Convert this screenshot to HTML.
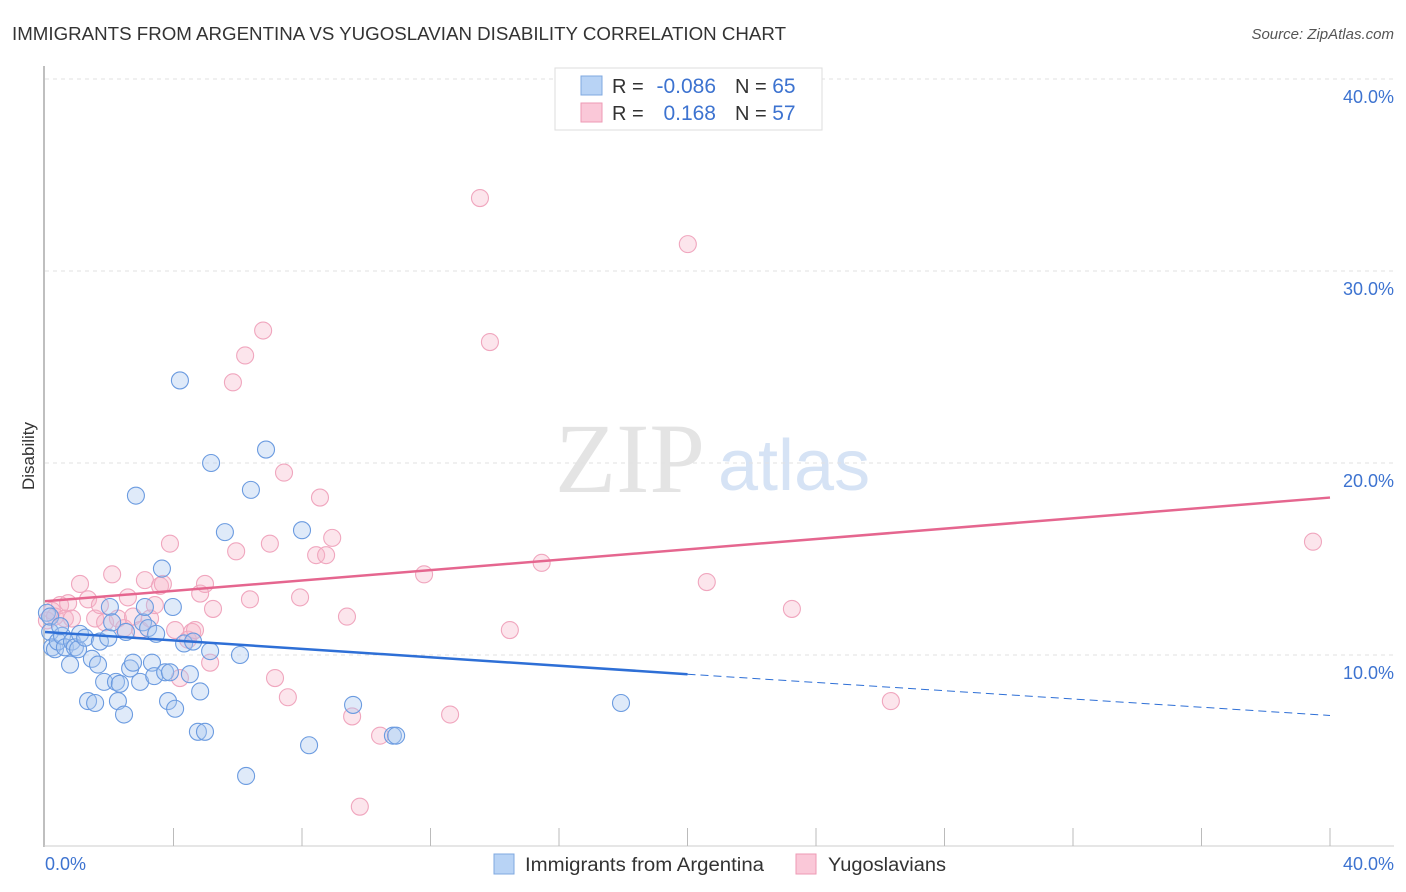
<!DOCTYPE html>
<html><head><meta charset="utf-8"><style>
body{margin:0;background:#fff;font-family:"Liberation Sans",sans-serif;}
#wrap{position:relative;width:1406px;height:892px;overflow:hidden;}
</style></head><body>
<div id="wrap">
<svg id="svg" width="1406" height="892" xmlns="http://www.w3.org/2000/svg">
<text x="12" y="40" font-size="18" fill="#333" textLength="774" lengthAdjust="spacingAndGlyphs">IMMIGRANTS FROM ARGENTINA VS YUGOSLAVIAN DISABILITY CORRELATION CHART</text>
<text x="1394" y="39" font-size="15" fill="#555" font-style="italic" text-anchor="end">Source: ZipAtlas.com</text>
<text x="555" y="492" font-size="100" fill="#e4e4e4" font-family="Liberation Serif,serif">ZIP</text>
<text x="718" y="490" font-size="72" fill="#d6e3f5">atlas</text>
<text x="34" y="456" font-size="17" fill="#333" text-anchor="middle" transform="rotate(-90 34 456)">Disability</text>
<g id="grid"></g><g id="pts"></g><g id="lines"></g>
<g>
<rect x="555" y="68" width="267" height="62" fill="#fff" stroke="#ddd"/>
<rect x="581" y="76" width="21" height="19" fill="#b8d3f5" stroke="#7fa8e0"/>
<rect x="581" y="103" width="21" height="19" fill="#fac8d8" stroke="#ee9ab4"/>
<text x="612" y="93" font-size="20" fill="#333">R =</text>
<text x="716" y="93" font-size="21" fill="#3d73d0" text-anchor="end">-0.086</text>
<text x="735" y="93" font-size="20" fill="#333">N = <tspan fill="#3d73d0" font-size="21">65</tspan></text>
<text x="612" y="120" font-size="20" fill="#333">R = </text>
<text x="716" y="120" font-size="21" fill="#3d73d0" text-anchor="end">0.168</text>
<text x="735" y="120" font-size="20" fill="#333">N = <tspan fill="#3d73d0" font-size="21">57</tspan></text>
</g>
<g>
<rect x="494" y="854" width="20" height="20" fill="#b8d3f5" stroke="#7fa8e0"/>
<text x="525" y="871" font-size="19" fill="#333" textLength="239" lengthAdjust="spacingAndGlyphs">Immigrants from Argentina</text>
<rect x="796" y="854" width="20" height="20" fill="#fac8d8" stroke="#ee9ab4"/>
<text x="828" y="871" font-size="19" fill="#333" textLength="118" lengthAdjust="spacingAndGlyphs">Yugoslavians</text>
</g>
<text x="45" y="870" font-size="18" fill="#3d73d0">0.0%</text>
<text x="1394" y="870" font-size="18" fill="#3d73d0" text-anchor="end">40.0%</text>
</svg></div>
<script>
const yTicks=[10,20,30,40];
const yTickLabels=["10.0%","20.0%","30.0%","40.0%"];
const blueX=[0.06,0.16,0.22,0.31,0.40,0.53,0.62,0.78,0.84,0.93,1.03,1.09,1.25,1.34,1.46,1.56,1.65,1.71,1.84,1.97,2.02,2.09,2.21,2.27,2.33,2.46,2.52,2.65,2.74,2.83,2.96,3.05,3.11,3.21,3.33,3.40,3.46,3.64,3.74,3.83,3.89,3.98,4.05,4.20,4.33,4.51,4.61,4.76,4.83,4.98,5.14,5.17,5.60,6.07,6.26,6.41,6.88,8.00,8.22,9.59,10.83,10.93,17.93,0.16,0.47];
const blueY=[12.2,11.2,10.4,10.3,10.7,11.0,10.4,9.5,10.7,10.4,10.3,11.1,10.9,7.6,9.8,7.5,9.5,10.7,8.6,10.9,12.5,11.7,8.6,7.6,8.5,6.9,11.2,9.3,9.6,18.3,8.6,11.7,12.5,11.4,9.6,8.9,11.1,14.5,9.1,7.6,9.1,12.5,7.2,24.3,10.6,9.0,10.7,6.0,8.1,6.0,10.2,20.0,16.4,10.0,3.7,18.6,20.7,16.5,5.3,7.4,5.8,5.8,7.5,12.0,11.5];
const pinkX=[0.06,0.22,0.31,0.47,0.62,0.72,0.84,1.09,1.34,1.56,1.71,1.87,2.09,2.27,2.46,2.58,2.74,2.96,3.11,3.27,3.42,3.58,3.67,3.89,4.05,4.20,4.45,4.58,4.67,4.83,4.98,5.14,5.23,5.85,5.95,6.23,6.38,6.79,7.00,7.16,7.44,7.56,7.94,8.44,8.56,8.75,8.94,9.40,9.56,10.43,9.80,11.80,12.61,13.54,13.85,14.47,15.46,20.01,20.60,23.25,26.33,39.47];
const pinkY=[11.8,12.3,12.0,12.6,11.9,12.7,11.9,13.7,12.9,11.9,12.6,11.7,14.2,11.9,11.4,13.0,12.0,11.3,13.9,11.9,12.6,13.6,13.7,15.8,11.3,8.8,10.8,11.2,11.3,13.2,13.7,9.6,12.4,24.2,15.4,25.6,12.9,26.9,15.8,8.8,19.5,7.8,13.0,15.2,18.2,15.2,16.1,12.0,6.8,5.8,2.1,14.2,6.9,33.8,26.3,11.3,14.8,31.4,13.8,12.4,7.6,15.9];
const blueLine=[[0,11.2],[20,9.0],[40,6.85]];
const pinkLine=[[0,12.8],[40,18.2]];
const sx=v=>45+v/40*1285;
const sy=v=>847-v*19.2;
const NS="http://www.w3.org/2000/svg";
function mk(tag,attrs,parent){const e=document.createElementNS(NS,tag);for(const k in attrs)e.setAttribute(k,attrs[k]);parent.appendChild(e);return e;}
const grid=document.getElementById('grid');
yTicks.forEach((t,i)=>{
  const l=mk('line',{x1:45,x2:1394,y1:sy(t),y2:sy(t),stroke:'#e2e2e2','stroke-dasharray':'4 4'},grid);
  
  
  const tx=mk('text',{x:1394,y:sy(t)+24,'font-size':18,fill:'#3d73d0','text-anchor':'end'},grid);
  tx.textContent=yTickLabels[i];
  
  
});
const ax=mk('line',{x1:44,x2:44,y1:66,y2:847,stroke:'#aaa','stroke-width':1.5},grid);


const bx=mk('line',{x1:44,x2:1394,y1:846,y2:846,stroke:'#ccc'},grid);


for(let i=1;i<=10;i++){const t=mk('line',{x1:sx(i*4),x2:sx(i*4),y1:828,y2:846,stroke:'#bbb'},grid);

}
const pts=document.getElementById('pts');
pinkX.forEach((x,i)=>{const c=mk('circle',{cx:sx(x),cy:sy(pinkY[i]),r:8.5,fill:'rgba(246,180,200,0.35)',stroke:'#f0a6be','stroke-width':1.1},pts);

});
blueX.forEach((x,i)=>{const c=mk('circle',{cx:sx(x),cy:sy(blueY[i]),r:8.5,fill:'rgba(170,200,240,0.38)',stroke:'#6b9be0','stroke-width':1.1},pts);

});
const lg=document.getElementById('lines');
let l1=mk('line',{x1:sx(blueLine[0][0]),y1:sy(blueLine[0][1]),x2:sx(blueLine[1][0]),y2:sy(blueLine[1][1]),stroke:'#2e6fd6','stroke-width':2.5},lg);


let l2=mk('line',{x1:sx(blueLine[1][0]),y1:sy(blueLine[1][1]),x2:sx(blueLine[2][0]),y2:sy(blueLine[2][1]),stroke:'#2e6fd6','stroke-width':1,'stroke-dasharray':'8 5'},lg);


let l3=mk('line',{x1:sx(pinkLine[0][0]),y1:sy(pinkLine[0][1]),x2:sx(pinkLine[1][0]),y2:sy(pinkLine[1][1]),stroke:'#e5668f','stroke-width':2.5},lg);


</script>
</body></html>
